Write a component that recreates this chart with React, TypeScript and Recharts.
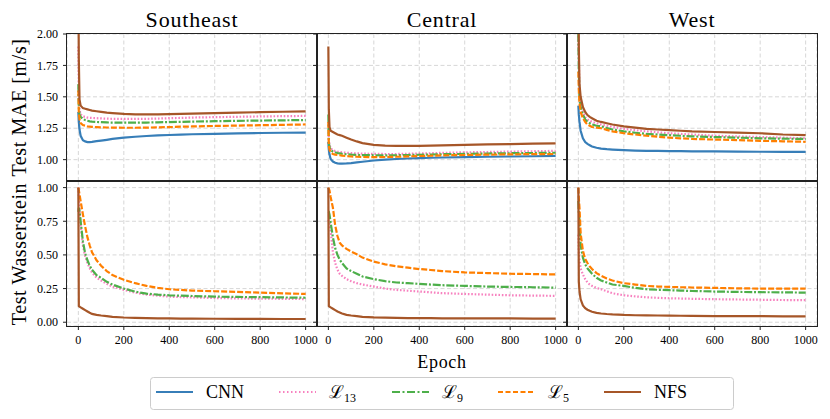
import { LineChart, Line, XAxis, YAxis, CartesianGrid } from "recharts";

const EPOCHS = [0, 2, 5, 10, 20, 30, 40, 50, 60, 80, 100, 125, 150, 200, 250, 300, 350, 400, 450, 500, 600, 700, 800, 900, 1000];

// Southeast, test MAE
const SE_MAE_CNN = [1.38, 1.30, 1.24, 1.19, 1.155, 1.145, 1.14, 1.14, 1.142, 1.147, 1.152, 1.158, 1.165, 1.175, 1.182, 1.188, 1.193, 1.196, 1.199, 1.202, 1.205, 1.209, 1.212, 1.214, 1.215];
const SE_MAE_L13 = [1.90, 1.50, 1.40, 1.36, 1.345, 1.34, 1.335, 1.333, 1.332, 1.33, 1.328, 1.326, 1.325, 1.324, 1.324, 1.325, 1.327, 1.33, 1.332, 1.335, 1.338, 1.341, 1.344, 1.346, 1.348];
const SE_MAE_L9 = [1.60, 1.42, 1.36, 1.34, 1.325, 1.315, 1.31, 1.305, 1.302, 1.30, 1.298, 1.296, 1.295, 1.294, 1.294, 1.295, 1.297, 1.299, 1.301, 1.303, 1.306, 1.309, 1.311, 1.313, 1.315];
const SE_MAE_L5 = [1.55, 1.38, 1.32, 1.29, 1.275, 1.27, 1.265, 1.263, 1.261, 1.259, 1.257, 1.256, 1.255, 1.254, 1.254, 1.255, 1.257, 1.259, 1.262, 1.264, 1.268, 1.271, 1.274, 1.277, 1.28];
const SE_MAE_NFS = [2.40, 1.80, 1.48, 1.43, 1.41, 1.405, 1.40, 1.395, 1.39, 1.385, 1.38, 1.374, 1.37, 1.364, 1.361, 1.36, 1.361, 1.362, 1.364, 1.366, 1.37, 1.374, 1.378, 1.381, 1.384];

// Central, test MAE
const CE_MAE_CNN = [1.14, 1.08, 1.04, 1.005, 0.985, 0.975, 0.97, 0.968, 0.968, 0.97, 0.973, 0.978, 0.983, 0.993, 1.0, 1.005, 1.009, 1.012, 1.015, 1.017, 1.02, 1.023, 1.025, 1.027, 1.03];
const CE_MAE_L13 = [1.30, 1.16, 1.12, 1.09, 1.075, 1.068, 1.063, 1.06, 1.058, 1.055, 1.052, 1.05, 1.048, 1.046, 1.045, 1.045, 1.047, 1.049, 1.051, 1.054, 1.058, 1.061, 1.064, 1.067, 1.07];
const CE_MAE_L9 = [1.36, 1.14, 1.10, 1.075, 1.065, 1.058, 1.053, 1.05, 1.047, 1.043, 1.04, 1.038, 1.036, 1.035, 1.034, 1.035, 1.037, 1.039, 1.041, 1.043, 1.046, 1.049, 1.051, 1.053, 1.055];
const CE_MAE_L5 = [1.30, 1.11, 1.08, 1.06, 1.045, 1.04, 1.037, 1.035, 1.032, 1.028, 1.025, 1.023, 1.021, 1.02, 1.021, 1.023, 1.026, 1.029, 1.031, 1.034, 1.037, 1.04, 1.042, 1.044, 1.045];
const CE_MAE_NFS = [1.90, 1.40, 1.26, 1.23, 1.22, 1.21, 1.20, 1.195, 1.19, 1.175, 1.16, 1.145, 1.132, 1.118, 1.112, 1.11, 1.109, 1.11, 1.112, 1.114, 1.118, 1.121, 1.124, 1.127, 1.13];

// West, test MAE
const WE_MAE_CNN = [1.43, 1.36, 1.30, 1.23, 1.17, 1.14, 1.125, 1.115, 1.105, 1.095, 1.088, 1.083, 1.08, 1.075, 1.072, 1.07, 1.069, 1.068, 1.067, 1.066, 1.065, 1.064, 1.063, 1.062, 1.062];
const WE_MAE_L13 = [2.20, 1.80, 1.55, 1.45, 1.38, 1.34, 1.32, 1.31, 1.30, 1.29, 1.28, 1.27, 1.26, 1.245, 1.235, 1.225, 1.217, 1.21, 1.205, 1.20, 1.19, 1.185, 1.18, 1.175, 1.17];
const WE_MAE_L9 = [2.00, 1.70, 1.50, 1.42, 1.36, 1.32, 1.30, 1.29, 1.28, 1.27, 1.265, 1.252, 1.24, 1.225, 1.214, 1.205, 1.2, 1.195, 1.19, 1.185, 1.18, 1.175, 1.17, 1.167, 1.165];
const WE_MAE_L5 = [1.70, 1.55, 1.45, 1.38, 1.33, 1.30, 1.28, 1.27, 1.26, 1.255, 1.25, 1.237, 1.225, 1.21, 1.2, 1.19, 1.182, 1.175, 1.17, 1.165, 1.16, 1.155, 1.15, 1.146, 1.142];
const WE_MAE_NFS = [2.40, 1.90, 1.60, 1.50, 1.42, 1.38, 1.355, 1.34, 1.33, 1.31, 1.30, 1.29, 1.28, 1.265, 1.255, 1.245, 1.24, 1.235, 1.23, 1.225, 1.22, 1.215, 1.21, 1.20, 1.195];

// Southeast, test Wasserstein
const SE_W_L13 = [1.0, 0.93, 0.85, 0.72, 0.57, 0.49, 0.44, 0.40, 0.37, 0.33, 0.31, 0.285, 0.265, 0.24, 0.22, 0.205, 0.197, 0.19, 0.187, 0.185, 0.18, 0.177, 0.175, 0.174, 0.172];
const SE_W_L9 = [0.82, 0.85, 0.83, 0.75, 0.60, 0.51, 0.46, 0.42, 0.39, 0.35, 0.33, 0.30, 0.28, 0.25, 0.227, 0.212, 0.205, 0.20, 0.197, 0.195, 0.19, 0.188, 0.186, 0.184, 0.182];
const SE_W_L5 = [1.0, 0.98, 0.95, 0.90, 0.80, 0.71, 0.63, 0.57, 0.52, 0.46, 0.42, 0.38, 0.35, 0.315, 0.29, 0.27, 0.255, 0.245, 0.24, 0.235, 0.23, 0.225, 0.22, 0.215, 0.21];
const SE_W_NFS = [1.0, 0.12, 0.115, 0.11, 0.10, 0.09, 0.08, 0.07, 0.062, 0.055, 0.05, 0.045, 0.04, 0.035, 0.032, 0.03, 0.029, 0.028, 0.027, 0.027, 0.026, 0.025, 0.025, 0.024, 0.024];

// Central, test Wasserstein
const CE_W_L13 = [0.76, 0.75, 0.74, 0.68, 0.52, 0.44, 0.39, 0.36, 0.345, 0.32, 0.305, 0.29, 0.28, 0.265, 0.25, 0.24, 0.234, 0.228, 0.222, 0.216, 0.21, 0.205, 0.20, 0.198, 0.196];
const CE_W_L9 = [0.82, 0.82, 0.80, 0.74, 0.63, 0.55, 0.50, 0.465, 0.44, 0.40, 0.38, 0.36, 0.34, 0.32, 0.305, 0.295, 0.29, 0.285, 0.28, 0.275, 0.27, 0.265, 0.262, 0.26, 0.257];
const CE_W_L5 = [1.0, 0.99, 0.98, 0.93, 0.85, 0.72, 0.64, 0.59, 0.57, 0.545, 0.525, 0.505, 0.48, 0.45, 0.43, 0.415, 0.405, 0.395, 0.388, 0.38, 0.37, 0.365, 0.36, 0.358, 0.355];
const CE_W_NFS = [1.0, 0.12, 0.115, 0.11, 0.10, 0.09, 0.08, 0.073, 0.065, 0.055, 0.05, 0.045, 0.04, 0.036, 0.034, 0.032, 0.031, 0.03, 0.03, 0.029, 0.029, 0.028, 0.028, 0.027, 0.027];

// West, test Wasserstein
const WE_W_L13 = [0.65, 0.52, 0.46, 0.40, 0.355, 0.32, 0.295, 0.28, 0.27, 0.255, 0.245, 0.23, 0.215, 0.20, 0.192, 0.185, 0.181, 0.178, 0.176, 0.174, 0.171, 0.169, 0.167, 0.165, 0.164];
const WE_W_L9 = [0.90, 0.82, 0.75, 0.57, 0.48, 0.43, 0.40, 0.38, 0.36, 0.33, 0.31, 0.295, 0.28, 0.27, 0.255, 0.245, 0.241, 0.238, 0.235, 0.232, 0.228, 0.225, 0.223, 0.222, 0.22];
const WE_W_L5 = [1.0, 0.92, 0.85, 0.66, 0.53, 0.47, 0.44, 0.415, 0.395, 0.365, 0.345, 0.325, 0.31, 0.29, 0.28, 0.27, 0.265, 0.262, 0.26, 0.258, 0.255, 0.252, 0.25, 0.25, 0.25];
const WE_W_NFS = [1.0, 0.30, 0.23, 0.17, 0.125, 0.105, 0.093, 0.085, 0.078, 0.07, 0.065, 0.061, 0.058, 0.054, 0.052, 0.051, 0.05, 0.049, 0.048, 0.047, 0.046, 0.045, 0.045, 0.044, 0.044];

const REGIONS = ["Southeast", "Central", "West"];
const X_TICKS = [0, 200, 400, 600, 800, 1000];
const MAE_TICKS = [1.0, 1.25, 1.5, 1.75, 2.0];
const W_TICKS = [0, 0.25, 0.5, 0.75, 1.0];

const SERIES = [
  { key: "cnn", color: "#377eb8", dash: undefined, legendDash: undefined, label: "CNN", sub: "" },
  { key: "l13", color: "#f781bf", dash: "1.6 1.8", legendDash: "1.5 2.5", label: "ℒ", sub: "13" },
  { key: "l9", color: "#4daf4a", dash: "8 1.8 2 1.8", legendDash: "8 2.5 2 2.5", label: "ℒ", sub: "9" },
  { key: "l5", color: "#ff7f00", dash: "6 2", legendDash: "5 2.5", label: "ℒ", sub: "5" },
  { key: "nfs", color: "#a65628", dash: undefined, legendDash: undefined, label: "NFS", sub: "" },
];

const MAE_PANELS = [
  { cnn: SE_MAE_CNN, l13: SE_MAE_L13, l9: SE_MAE_L9, l5: SE_MAE_L5, nfs: SE_MAE_NFS },
  { cnn: CE_MAE_CNN, l13: CE_MAE_L13, l9: CE_MAE_L9, l5: CE_MAE_L5, nfs: CE_MAE_NFS },
  { cnn: WE_MAE_CNN, l13: WE_MAE_L13, l9: WE_MAE_L9, l5: WE_MAE_L5, nfs: WE_MAE_NFS },
];
const W_PANELS = [
  { l13: SE_W_L13, l9: SE_W_L9, l5: SE_W_L5, nfs: SE_W_NFS },
  { l13: CE_W_L13, l9: CE_W_L9, l5: CE_W_L5, nfs: CE_W_NFS },
  { l13: WE_W_L13, l9: WE_W_L9, l5: WE_W_L5, nfs: WE_W_NFS },
];

function toRows(series: Record<string, number[]>) {
  return EPOCHS.map((epoch, i) => {
    const row: Record<string, number> = { epoch };
    for (const k of Object.keys(series)) row[k] = series[k][i];
    return row;
  });
}

const FONT = "Liberation Serif, DejaVu Serif, Times New Roman, Times, serif";
const COL_LEFT = [67, 317, 567];
const PLOT_W = 250;
const ROW_TOP = [34, 181];
const ROW_H = [147, 145];
const AXIS_W = 40;
const PAD_TOP = 10;

function Panel({ row, col }: { row: number; col: number }) {
  const series = row === 0 ? MAE_PANELS[col] : W_PANELS[col];
  const data = toRows(series);
  const bottomRow = row === 1;
  const xH = bottomRow ? 26 : 0;
  const tickStyle = { fontSize: 12, fill: "#000", style: { fontFamily: FONT } };
  return (
    <div style={{ position: "absolute", left: COL_LEFT[col] - AXIS_W, top: ROW_TOP[row] - PAD_TOP }}>
      <LineChart
        width={AXIS_W + PLOT_W + 6}
        height={ROW_H[row] + PAD_TOP + xH}
        data={data}
        margin={{ top: PAD_TOP, right: 6, bottom: 0, left: 0 }}
        style={{ fontFamily: FONT }}
      >
        <CartesianGrid strokeDasharray="4 2.5" stroke="#d3d3d3" strokeWidth={0.9} />
        <XAxis
          dataKey="epoch"
          type="number"
          domain={[-50, 1050]}
          ticks={X_TICKS}
          allowDataOverflow
          height={xH}
          axisLine={false}
          tickLine={bottomRow ? { stroke: "#222" } : false}
          tickSize={4}
          tickMargin={5}
          tick={tickStyle}
          tickFormatter={(v) => (bottomRow ? String(v) : "")}
          interval={0}
        />
        <YAxis
          type="number"
          domain={row === 0 ? [0.83, 2.0] : [-0.028, 1.049]}
          ticks={row === 0 ? MAE_TICKS : W_TICKS}
          allowDataOverflow
          width={AXIS_W}
          axisLine={false}
          tickLine={{ stroke: "#222" }}
          tickSize={4}
          tickMargin={5}
          tick={tickStyle}
          tickFormatter={(v) => (col === 0 ? Number(v).toFixed(2) : "")}
          interval={0}
        />
        {SERIES.filter((s) => s.key in series).map((s) => (
          <Line
            key={s.key}
            dataKey={s.key}
            type="linear"
            stroke={s.color}
            strokeWidth={2.2}
            strokeDasharray={s.dash}
            dot={false}
            activeDot={false}
            isAnimationActive={false}
          />
        ))}
      </LineChart>
    </div>
  );
}

const LEGEND_X = [156, 279, 392, 498, 604];

function Legend() {
  const y = 392;
  return (
    <g>
      <rect x={150.5} y={377.5} width={583} height={32} rx={3} fill="#fff" stroke="#cccccc" />
      {SERIES.map((s, i) => (
        <g key={s.key}>
          <line x1={LEGEND_X[i]} x2={LEGEND_X[i] + 37} y1={y} y2={y} stroke={s.color} strokeWidth={2} strokeDasharray={s.legendDash} />
          <text x={LEGEND_X[i] + 50} y={398} fontSize={18} style={{ fontFamily: FONT }} fill="#000">
            {s.label}
            {s.sub && (
              <tspan fontSize={12} dy={4}>
                {s.sub}
              </tspan>
            )}
          </text>
        </g>
      ))}
    </g>
  );
}

export default function App() {
  const textStyle = { fontFamily: FONT };
  return (
    <div style={{ position: "absolute", left: 0, top: 0, width: 830, height: 419, background: "#fff", fontFamily: FONT }}>
      {[0, 1].map((r) => [0, 1, 2].map((c) => <Panel key={`${r}-${c}`} row={r} col={c} />))}
      {[0, 1].map((r) =>
        [0, 1, 2].map((c) => (
          <div
            key={`b${r}-${c}`}
            style={{
              position: "absolute",
              left: COL_LEFT[c] - 1,
              top: ROW_TOP[r] - 1,
              width: PLOT_W + 2,
              height: ROW_H[r] + 2,
              border: "1px solid #222",
              boxSizing: "border-box",
              pointerEvents: "none",
            }}
          />
        ))
      )}
      <svg width={830} height={419} style={{ position: "absolute", left: 0, top: 0, pointerEvents: "none" }}>
        {REGIONS.map((name, c) => (
          <text key={name} x={COL_LEFT[c] + PLOT_W / 2} y={27} textAnchor="middle" fontSize={22} letterSpacing={0.8} style={textStyle}>
            {name}
          </text>
        ))}
        <text transform="translate(26,107.5) rotate(-90)" textAnchor="middle" fontSize={20} letterSpacing={0.6} style={textStyle}>
          Test MAE [m/s]
        </text>
        <text transform="translate(26,254) rotate(-90)" textAnchor="middle" fontSize={20} letterSpacing={0.6} style={textStyle}>
          Test Wasserstein
        </text>
        <text x={442} y={368} textAnchor="middle" fontSize={18} letterSpacing={0.7} style={textStyle}>
          Epoch
        </text>
        <Legend />
      </svg>
    </div>
  );
}
